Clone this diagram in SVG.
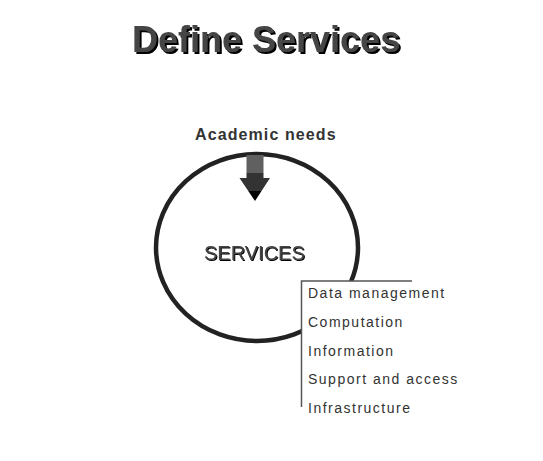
<svg xmlns="http://www.w3.org/2000/svg" width="543" height="461" viewBox="0 0 543 461">
<defs>
<linearGradient id="arrowGrad" x1="0" y1="155" x2="0" y2="201" gradientUnits="userSpaceOnUse">
<stop offset="0" stop-color="#606060"/>
<stop offset="0.39" stop-color="#606060"/>
<stop offset="0.39" stop-color="#333333"/>
<stop offset="0.79" stop-color="#333333"/>
<stop offset="0.79" stop-color="#000000"/>
<stop offset="1" stop-color="#000000"/>
</linearGradient>
<filter id="shadow2" x="-5%" y="-20%" width="115%" height="150%">
<feDropShadow dx="2" dy="2" stdDeviation="0" flood-color="#000" flood-opacity="1"/>
</filter>
<filter id="shadow1" x="-5%" y="-20%" width="115%" height="150%">
<feDropShadow dx="1" dy="1" stdDeviation="0" flood-color="#000" flood-opacity="1"/>
</filter>
</defs>
<style>
.title{font-family:"Liberation Sans",Arial,sans-serif;font-size:36px;font-weight:bold;fill:#444}
.lbl{font-family:"Liberation Sans",Arial,sans-serif;font-size:16px;font-weight:bold;fill:#333;letter-spacing:1.1px}
.svc{font-family:"Liberation Sans",Arial,sans-serif;font-size:20px;fill:#444}
.item{font-family:"Liberation Sans",Arial,sans-serif;font-size:14px;fill:#333;letter-spacing:1.5px}
</style>
<rect width="543" height="461" fill="#fff"/>
<g id="title">
<text class="title" x="132" y="52" filter="url(#shadow2)">Define Services</text>
</g>
<g id="services">
<ellipse cx="257" cy="247.5" rx="101" ry="93.5" fill="none" stroke="#222" stroke-width="4.5"/>
<text class="svc" x="204" y="260" filter="url(#shadow1)">SERVICES</text>
</g>
<g id="academic">
<text class="lbl" x="195" y="140">Academic needs</text>
</g>
<g id="connectors">
<path d="M246.5,155 H263.5 V178 H270 L255,201 L239.5,178 H246.5 Z" fill="url(#arrowGrad)"/>
</g>
<g id="list">
<rect x="301.5" y="281" width="160" height="140" fill="#fff"/>
<path d="M412,281 H301.5 V407" fill="none" stroke="#555" stroke-width="1.5"/>
<text class="item" x="308" y="298">Data management</text>
<text class="item" x="308" y="327">Computation</text>
<text class="item" x="308" y="356">Information</text>
<text class="item" x="308" y="384">Support and access</text>
<text class="item" x="308" y="413">Infrastructure</text>
</g>
</svg>
